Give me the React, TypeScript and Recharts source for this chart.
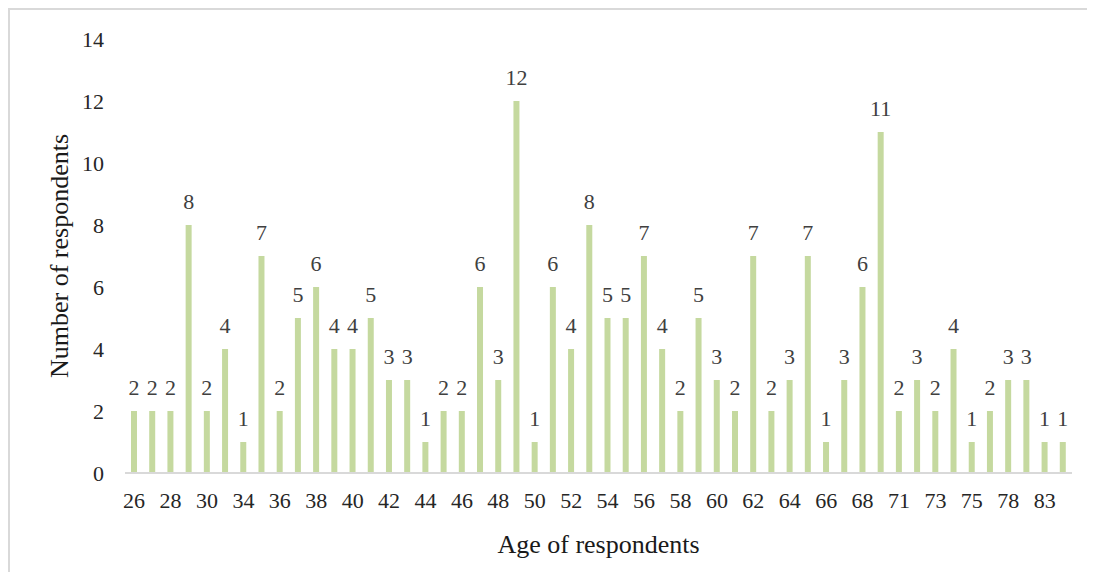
import { BarChart, Bar, XAxis, YAxis, LabelList, Label } from 'recharts'

const ages = [
  '26', '27', '28', '29', '30', '32', '34', '35', '36', '37', '38', '39', '40',
  '41', '42', '43', '44', '45', '46', '47', '48', '49', '50', '51', '52', '53',
  '54', '55', '56', '57', '58', '59', '60', '61', '62', '63', '64', '65', '66',
  '67', '68', '70', '71', '72', '73', '74', '75', '77', '78', '80', '83', '85',
]

const respondents = [
  2, 2, 2, 8, 2, 4, 1, 7, 2, 5, 6, 4, 4,
  5, 3, 3, 1, 2, 2, 6, 3, 12, 1, 6, 4, 8,
  5, 5, 7, 4, 2, 5, 3, 2, 7, 2, 3, 7, 1,
  3, 6, 11, 2, 3, 2, 4, 1, 2, 3, 3, 1, 1,
]

const yTicks = [0, 2, 4, 6, 8, 10, 12, 14]

const data = ages.map((age, i) => ({ age, count: respondents[i] }))

const FONT = "'Liberation Serif', 'Times New Roman', serif"

export default function App() {
  return (
    <div
      style={{
        width: 1087,
        height: 564,
        boxSizing: 'border-box',
        borderTop: '2px solid #d9d9d9',
        borderLeft: '2px solid #d9d9d9',
        fontFamily: FONT,
      }}
    >
      <style>{`
        html, body { overflow: hidden; }
        svg text, svg tspan { font-family: ${FONT} !important; }
      `}</style>
      <BarChart
        width={1085}
        height={562}
        data={data}
        margin={{ top: 29, right: 23, left: 0, bottom: 19 }}
      >
        <XAxis
          dataKey="age"
          interval={1}
          tickLine={false}
          tickSize={0}
          tickMargin={19}
          axisLine={{ stroke: '#d9d9d9', strokeWidth: 2 }}
          tick={{ fontSize: 22, fill: '#262626' }}
          height={80}
        >
          <Label
            value="Age of respondents"
            position="insideBottom"
            offset={0}
            style={{ fontSize: 26, fill: '#1a1a1a' }}
          />
        </XAxis>
        <YAxis
          domain={[0, 14]}
          ticks={yTicks}
          interval={0}
          axisLine={false}
          tickLine={false}
          tickSize={0}
          tickMargin={21}
          width={115}
          tick={{ fontSize: 22, fill: '#262626' }}
        >
          <Label
            value="Number of respondents"
            angle={-90}
            position="insideLeft"
            offset={49}
            style={{ fontSize: 26, fill: '#1a1a1a', textAnchor: 'middle' }}
          />
        </YAxis>
        <Bar dataKey="count" fill="#c5d99f" barSize={6} isAnimationActive={false}>
          <LabelList
            dataKey="count"
            position="top"
            offset={16}
            style={{ fontSize: 22, fill: '#404040' }}
          />
        </Bar>
      </BarChart>
    </div>
  )
}
